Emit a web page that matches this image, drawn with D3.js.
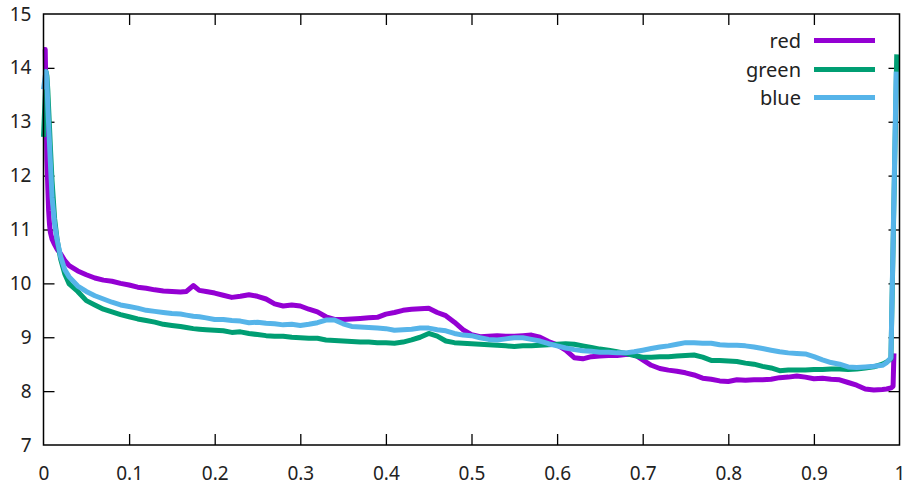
<!DOCTYPE html>
<html>
<head>
<meta charset="utf-8">
<script src="https://cdn.jsdelivr.net/npm/d3@7"></script>
<style>
  html, body { margin: 0; padding: 0; background: #fff; }
  svg { display: block; }
  text { font-family: "Noto Sans", "Open Sans", sans-serif; fill: #222; }
</style>
</head>
<body>
<svg id="chart" width="907" height="485"></svg>
<script>
// ---- data ----
const seriesNames = ["red", "green", "blue"];
const seriesColors = ["#9400d3", "#009e73", "#56b4e9"];
const xTicks = [0, 0.1, 0.2, 0.3, 0.4, 0.5, 0.6, 0.7, 0.8, 0.9, 1];
const xTickLabels = ["0", "0.1", "0.2", "0.3", "0.4", "0.5", "0.6", "0.7", "0.8", "0.9", "1"];
const yTicks = [7, 8, 9, 10, 11, 12, 13, 14, 15];
const yTickLabels = ["7", "8", "9", "10", "11", "12", "13", "14", "15"];

const xs = [
  0, 0.002, 0.003, 0.004, 0.005, 0.006, 0.007, 0.008, 0.01, 0.013, 0.016, 0.02, 0.025,
  0.03, 0.04, 0.05, 0.06, 0.07, 0.08, 0.09, 0.10, 0.11, 0.12, 0.13, 0.14, 0.15, 0.16, 0.167, 0.175,
  0.182, 0.19, 0.20, 0.21, 0.22, 0.23, 0.24, 0.25, 0.26, 0.27, 0.28, 0.29, 0.30, 0.31, 0.32, 0.33,
  0.34, 0.35, 0.36, 0.37, 0.38, 0.39, 0.40, 0.41, 0.42, 0.43, 0.44, 0.45, 0.46, 0.47, 0.48, 0.49,
  0.50, 0.51, 0.52, 0.53, 0.54, 0.55, 0.56, 0.57, 0.58, 0.59, 0.60, 0.61, 0.62, 0.63, 0.64, 0.65,
  0.66, 0.67, 0.68, 0.69, 0.70, 0.71, 0.72, 0.73, 0.74, 0.75, 0.76, 0.77, 0.78, 0.79, 0.80, 0.81,
  0.82, 0.83, 0.84, 0.85, 0.86, 0.87, 0.88, 0.89, 0.90, 0.91, 0.92, 0.93, 0.94, 0.95, 0.96, 0.97,
  0.98, 0.985, 0.99, 0.9925, 0.9935, 0.9962, 0.9968
];

const redValues = [
  14.34, 14.34, 13.4, 12.3, 11.8, 11.35, 11.1, 10.95, 10.82, 10.72, 10.63, 10.55, 10.42,
  10.33, 10.23, 10.16, 10.10, 10.06, 10.04, 10.00, 9.97, 9.93, 9.91, 9.88, 9.86, 9.85, 9.84, 9.85, 9.96,
  9.87, 9.85, 9.82, 9.78, 9.74, 9.76, 9.79, 9.76, 9.71, 9.62, 9.58, 9.60, 9.58, 9.52, 9.47, 9.38,
  9.33, 9.33, 9.34, 9.35, 9.36, 9.37, 9.43, 9.46, 9.50, 9.52, 9.53, 9.54, 9.46, 9.40, 9.28, 9.14,
  9.05, 9.01, 9.02, 9.03, 9.02, 9.02, 9.03, 9.04, 9.00, 8.92, 8.86, 8.76, 8.62, 8.60, 8.64, 8.65,
  8.66, 8.66, 8.68, 8.68, 8.58, 8.48, 8.42, 8.39, 8.37, 8.34, 8.30, 8.24, 8.22, 8.19, 8.18, 8.21,
  8.20, 8.21, 8.21, 8.22, 8.25, 8.26, 8.28, 8.26, 8.23, 8.24, 8.22, 8.21, 8.16, 8.11, 8.04, 8.02,
  8.03, 8.04, 8.06, 8.09, 8.70, null, null
];

const greenValues = [
  12.72, 13.5, 13.93, 13.85, 13.6, 13.25, 12.9, 12.55, 11.9, 11.2, 10.8, 10.45, 10.17,
  9.99, 9.85, 9.68, 9.60, 9.52, 9.47, 9.42, 9.38, 9.34, 9.31, 9.28, 9.24, 9.22, 9.20, 9.18, 9.16,
  9.15, 9.14, 9.13, 9.12, 9.09, 9.10, 9.07, 9.05, 9.03, 9.02, 9.02, 9.00, 8.99, 8.98, 8.98, 8.95,
  8.94, 8.93, 8.92, 8.91, 8.91, 8.90, 8.90, 8.89, 8.91, 8.95, 9.00, 9.07, 9.02, 8.93, 8.90, 8.89,
  8.88, 8.87, 8.86, 8.85, 8.84, 8.83, 8.84, 8.84, 8.85, 8.86, 8.87, 8.88, 8.87, 8.84, 8.81, 8.78,
  8.76, 8.73, 8.70, 8.66, 8.63, 8.63, 8.64, 8.64, 8.65, 8.66, 8.67, 8.63, 8.57, 8.57, 8.56, 8.55,
  8.52, 8.50, 8.46, 8.43, 8.38, 8.39, 8.39, 8.39, 8.40, 8.40, 8.41, 8.41, 8.40, 8.41, 8.43, 8.45,
  8.50, 8.54, 8.60, null, null, null, 14.25
];

const blueValues = [
  13.6, 13.85, 13.93, 13.75, 13.3, 12.95, 12.6, 12.25, 11.6, 11.1, 10.8, 10.5, 10.25,
  10.12, 9.95, 9.85, 9.77, 9.71, 9.65, 9.60, 9.57, 9.54, 9.50, 9.48, 9.46, 9.44, 9.43, 9.41, 9.39,
  9.38, 9.36, 9.33, 9.33, 9.31, 9.30, 9.27, 9.28, 9.26, 9.25, 9.23, 9.24, 9.22, 9.24, 9.27, 9.32,
  9.32, 9.25, 9.20, 9.19, 9.18, 9.17, 9.16, 9.13, 9.14, 9.15, 9.17, 9.17, 9.14, 9.12, 9.07, 9.04,
  9.03, 8.99, 8.96, 8.95, 8.97, 8.99, 8.99, 8.96, 8.93, 8.88, 8.84, 8.80, 8.77, 8.75, 8.74, 8.72,
  8.72, 8.71, 8.71, 8.73, 8.76, 8.79, 8.82, 8.84, 8.87, 8.90, 8.90, 8.89, 8.89, 8.86, 8.85, 8.85,
  8.84, 8.82, 8.79, 8.76, 8.73, 8.71, 8.70, 8.69, 8.64, 8.58, 8.53, 8.50, 8.45, 8.44, 8.45, 8.46,
  8.48, 8.53, 8.62, null, null, 13.93, null
];

const seriesValues = [redValues, greenValues, blueValues];

// ---- chart ----
const svg = d3.select("#chart");
const plotLeft = 43.5, plotRight = 899.5, plotTop = 14, plotBottom = 445;

const x = d3.scaleLinear().domain([0, 1]).range([plotLeft, plotRight]);
const y = d3.scaleLinear().domain([7, 15]).range([plotBottom, plotTop]);

const tickLen = 11;
const fontSize = 19;

// axes (ticks inward, mirrored)
const gLeft = svg.append("g").attr("transform", `translate(${plotLeft},0)`)
  .call(d3.axisLeft(y).tickValues(yTicks).tickFormat((d, i) => yTickLabels[i])
    .tickSize(-tickLen).tickPadding(12));
const gRight = svg.append("g").attr("transform", `translate(${plotRight},0)`)
  .call(d3.axisRight(y).tickValues(yTicks.slice(1, -1)).tickFormat("").tickSize(-tickLen));
const gBottom = svg.append("g").attr("transform", `translate(0,${plotBottom})`)
  .call(d3.axisBottom(x).tickValues(xTicks).tickFormat((d, i) => xTickLabels[i])
    .tickSize(-tickLen).tickPadding(22));
const gTop = svg.append("g").attr("transform", `translate(0,${plotTop})`)
  .call(d3.axisTop(x).tickValues(xTicks.slice(1, -1)).tickFormat("").tickSize(-tickLen));

[gLeft, gRight, gBottom, gTop].forEach(g => {
  g.select(".domain").remove();
  g.selectAll(".tick line").attr("stroke", "#000").attr("stroke-width", 1.3);
  g.selectAll(".tick text").attr("font-size", fontSize)
    .attr("font-family", '"Noto Sans", sans-serif').attr("fill", "#222");
});
gLeft.selectAll(".tick").filter(d => d === 7 || d === 15).select("line").remove();
gBottom.selectAll(".tick").filter(d => d === 0 || d === 1).select("line").remove();

// lines
const line = d3.line().x(d => x(d.x)).y(d => y(d.y));
seriesNames.forEach((name, k) => {
  const data = xs.map((xv, i) => ({ x: xv, y: seriesValues[k][i] })).filter(d => d.y != null);
  svg.append("path")
    .datum(data)
    .attr("fill", "none")
    .attr("stroke", seriesColors[k])
    .attr("stroke-width", 5)
    .attr("stroke-linejoin", "round")
    .attr("d", line);
});

// border
svg.append("rect")
  .attr("x", plotLeft).attr("y", plotTop)
  .attr("width", plotRight - plotLeft).attr("height", plotBottom - plotTop)
  .attr("fill", "none").attr("stroke", "#000").attr("stroke-width", 1.5);

// legend
const legendBaselines = [48, 77, 105];
seriesNames.forEach((name, k) => {
  const by = legendBaselines[k];
  svg.append("text")
    .attr("x", 801).attr("y", by)
    .attr("text-anchor", "end")
    .attr("font-size", 20)
    .text(name);
  svg.append("line")
    .attr("x1", 814).attr("x2", 875)
    .attr("y1", by - 7.5).attr("y2", by - 7.5)
    .attr("stroke", seriesColors[k])
    .attr("stroke-width", 5);
});
</script>
</body>
</html>
